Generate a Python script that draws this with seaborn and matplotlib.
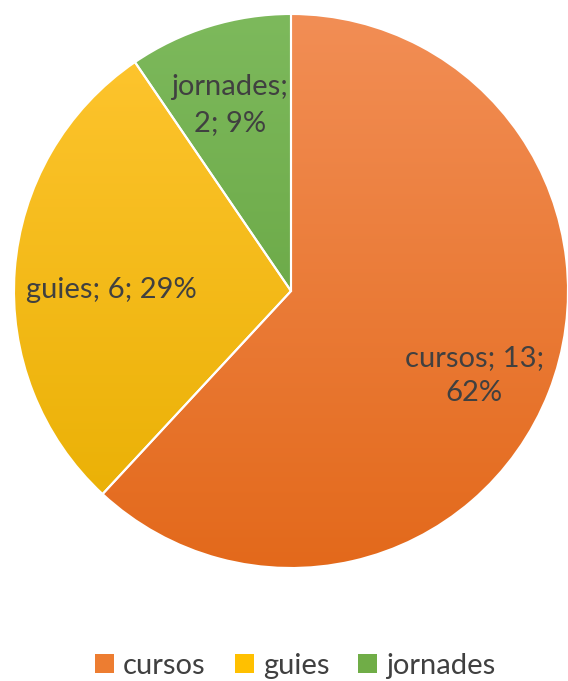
import numpy as np
import matplotlib
matplotlib.use("Agg")
import matplotlib.pyplot as plt
import matplotlib.colors as mcolors
from matplotlib.patches import Patch, Wedge
import seaborn as sns

categories = ["cursos", "guies", "jornades"]
counts = [13, 6, 2]
percents = [62, 29, 9]
label_texts = ["cursos; 13;\n62%", "guies; 6; 29%", "jornades;\n2; 9%"]

# gradient top / bottom colours per slice (Excel-like fill)
top_colors = ["#F28E55", "#FFC631", "#7DB95C"]
bottom_colors = ["#E3691B", "#E8AE00", "#5E9D37"]
base_colors = ["#ED7D31", "#FFC000", "#70AD47"]

sns.set_theme(style="white")
plt.rcParams["font.family"] = ["Lato", "DejaVu Sans"]
TEXT = "#404040"

fig = plt.figure(figsize=(5.68, 6.81), dpi=100)
ax = fig.add_axes([14 / 568, 113 / 681, 554 / 568, 554 / 681])

wedges, _ = ax.pie(counts, colors=sns.color_palette(base_colors), startangle=90,
                   counterclock=False, radius=1.0,
                   wedgeprops=dict(linewidth=0, zorder=1))

for w, c_top, c_bot in zip(wedges, top_colors, bottom_colors):
    cmap = mcolors.LinearSegmentedColormap.from_list("g", [c_bot, c_top])
    grad = np.linspace(0, 1, 256).reshape(-1, 1)
    im = ax.imshow(grad, cmap=cmap, extent=(-1, 1, -1, 1), origin="lower",
                   aspect="auto", zorder=2, interpolation="bicubic")
    im.set_clip_path(w)

# white separators on top
for w in wedges:
    ax.add_patch(Wedge(w.center, w.r, w.theta1, w.theta2, fill=False,
                       edgecolor="white", linewidth=1.5, zorder=3))

label_r = [0.71, 0.65, 0.75]
for w, txt, r in zip(wedges, label_texts, label_r):
    ang = np.deg2rad((w.theta1 + w.theta2) / 2)
    ax.text(r * np.cos(ang), r * np.sin(ang) - 0.045, txt, ha="center", va="center",
            fontsize=21, color=TEXT, linespacing=1.45, zorder=4)

ax.set_xlim(-1, 1)
ax.set_ylim(-1, 1)
ax.set_aspect("equal")
ax.axis("off")

handles = [Patch(facecolor=c, edgecolor="none") for c in base_colors]
fig.legend(handles, categories, loc="center", bbox_to_anchor=(0.52, 1 - 666 / 681),
           ncol=3, frameon=False, fontsize=21, labelcolor=TEXT,
           handlelength=0.65, handleheight=0.65, handletextpad=0.3, columnspacing=1.0)

fig.savefig("out.png", dpi=100)
